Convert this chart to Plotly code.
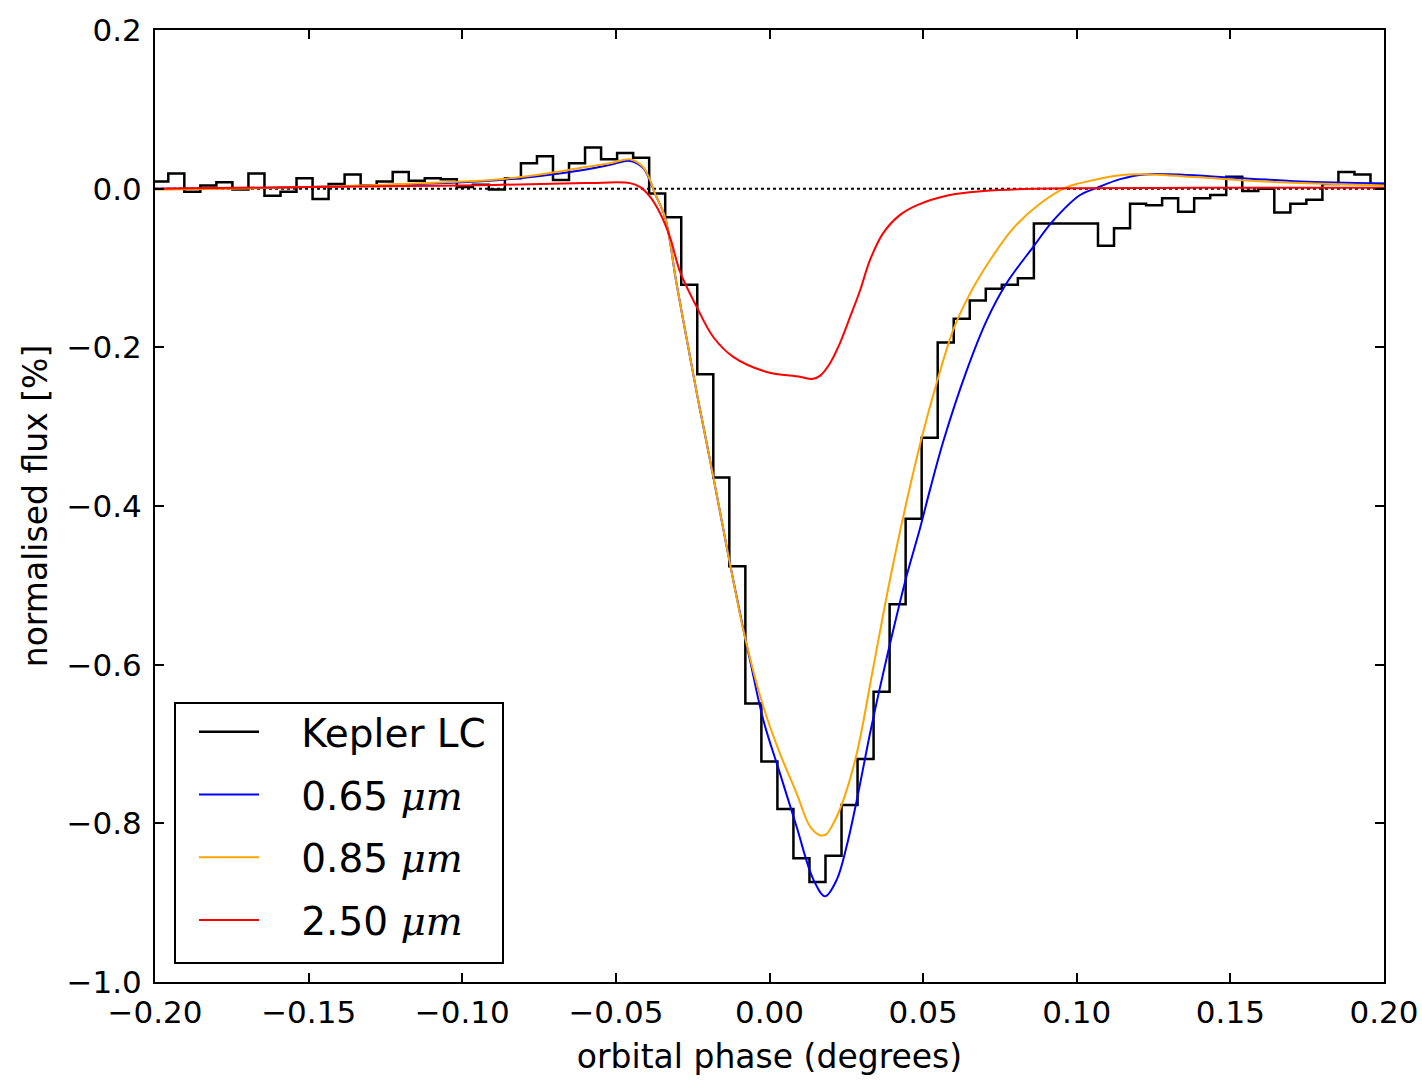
import numpy as np
import plotly.graph_objects as go

# ---------------- data ----------------
BIN_START = -0.20089
BIN_WIDTH = 0.005217
kepler_lc = [
    0.009, 0.019, -0.004, 0.004, 0.008, -0.001, 0.019, -0.009, -0.004, 0.013,
    -0.013, 0.006, 0.018, 0.004, 0.009, 0.021, 0.010, 0.013, 0.012, 0.002,
    0.005, -0.001, 0.013, 0.032, 0.041, 0.011, 0.032, 0.052, 0.037, 0.045,
    0.039, -0.006, -0.036, -0.121, -0.234, -0.364, -0.476, -0.649, -0.722, -0.782,
    -0.844, -0.874, -0.841, -0.777, -0.719, -0.634, -0.524, -0.416, -0.314, -0.194,
    -0.164, -0.141, -0.126, -0.121, -0.113, -0.044, -0.044, -0.044, -0.044, -0.072,
    -0.050, -0.019, -0.021, -0.012, -0.029, -0.012, -0.008, 0.015, -0.003, 0.000,
    -0.030, -0.019, -0.014, 0.006, 0.021, 0.018, 0.006,
]

phase_065 = [-0.2, -0.15, -0.1, -0.0877, -0.0747, -0.0617, -0.0519, -0.0454, -0.0411,
             -0.0389, -0.0373, -0.0340, -0.0302, -0.0248, -0.0232, -0.0183, -0.0129,
             -0.0080, -0.0063, -0.0020, 0.0034, 0.0088, 0.0143, 0.0181, 0.0219, 0.0251,
             0.0284, 0.0327, 0.0360, 0.0403, 0.0447, 0.0490, 0.0522, 0.0566, 0.0642,
             0.0707, 0.0772, 0.0859, 0.0924, 0.1011, 0.1059, 0.1141, 0.1222, 0.1522,
             0.1727, 0.2]
flux_065 = [0.000, 0.002, 0.008, 0.011, 0.016, 0.023, 0.030, 0.035, 0.026,
            0.010, -0.006, -0.036, -0.121, -0.234, -0.267, -0.363, -0.472,
            -0.565, -0.595, -0.670, -0.737, -0.804, -0.871, -0.892, -0.871, -0.829,
            -0.771, -0.687, -0.628, -0.556, -0.487, -0.428, -0.380, -0.318, -0.229,
            -0.166, -0.119, -0.073, -0.040, -0.008, 0.000, 0.012, 0.018, 0.0136,
            0.009, 0.0066]

phase_085 = [-0.2, -0.15, -0.1, -0.0877, -0.0747, -0.0617, -0.0519, -0.0454, -0.0411,
             -0.0389, -0.0373, -0.0340, -0.0302, -0.0248, -0.0232, -0.0183, -0.0129,
             -0.0080, -0.0020, 0.0034, 0.0088, 0.0132, 0.0164, 0.0184, 0.0208, 0.0240,
             0.0284, 0.0338, 0.0392, 0.0447, 0.0496, 0.0544, 0.0598, 0.0653, 0.0718,
             0.0793, 0.0880, 0.0967, 0.1011, 0.1141, 0.1238, 0.1522, 0.1727, 0.2]
flux_085 = [-0.001, 0.002, 0.009, 0.012, 0.018, 0.026, 0.032, 0.037, 0.027,
            0.011, -0.006, -0.036, -0.121, -0.234, -0.267, -0.363, -0.472,
            -0.565, -0.653, -0.712, -0.762, -0.804, -0.815, -0.814, -0.800, -0.771,
            -0.712, -0.603, -0.493, -0.393, -0.313, -0.245, -0.178, -0.132, -0.090,
            -0.050, -0.019, 0.002, 0.007, 0.017, 0.018, 0.011, 0.007, 0.004]

phase_250 = [-0.2, -0.15, -0.1, -0.06, -0.0454, -0.0421, -0.0389, -0.0356, -0.0324,
             -0.0291, -0.0237, -0.0183, -0.0118, -0.0009, 0.0099, 0.0138, 0.0164,
             0.0197, 0.0229, 0.0262, 0.0295, 0.0327, 0.0370, 0.0425, 0.0479, 0.0587,
             0.0696, 0.0858, 0.14, 0.2]
flux_250 = [0.000, 0.002, 0.004, 0.007, 0.007, 0.002, -0.010, -0.031, -0.061,
            -0.105, -0.149, -0.187, -0.212, -0.231, -0.237, -0.240, -0.236,
            -0.220, -0.195, -0.162, -0.128, -0.090, -0.056, -0.033, -0.021, -0.008,
            -0.003, 0.000, 0.001, 0.001]

x_ticks = [-0.20, -0.15, -0.10, -0.05, 0.00, 0.05, 0.10, 0.15, 0.20]
x_tick_text = ["\u22120.20", "\u22120.15", "\u22120.10", "\u22120.05", "0.00", "0.05", "0.10", "0.15", "0.20"]
y_ticks = [-1.0, -0.8, -0.6, -0.4, -0.2, 0.0, 0.2]
y_tick_text = ["\u22121.0", "\u22120.8", "\u22120.6", "\u22120.4", "\u22120.2", "0.0", "0.2"]

# ---------------- figure ----------------
n = len(kepler_lc)
edges = BIN_START + BIN_WIDTH * np.arange(n + 1)
step_x = list(edges)
step_y = list(kepler_lc) + [kepler_lc[-1]]

pad = "\u00a0\u00a0\u00a0"
mu = '<span style="font-family:\'DejaVu Serif\';font-style:italic">\u03bcm</span>'

fig = go.Figure()
fig.add_trace(go.Scatter(x=[-0.2, 0.2], y=[0, 0], mode="lines",
                         line=dict(color="black", width=2, dash="dot"),
                         showlegend=False, hoverinfo="skip"))
fig.add_trace(go.Scatter(x=step_x, y=step_y, mode="lines", line_shape="hv",
                         line=dict(color="black", width=2.5), name=pad + "Kepler LC",
                         legendgroup="a"))
fig.add_trace(go.Scatter(x=phase_065, y=flux_065, mode="lines", line_shape="spline",
                         line=dict(color="#0000ff", width=2), name=pad + "0.65 " + mu,
                         legendgroup="b"))
fig.add_trace(go.Scatter(x=phase_085, y=flux_085, mode="lines", line_shape="spline",
                         line=dict(color="#ffa500", width=2), name=pad + "0.85 " + mu,
                         legendgroup="c"))
fig.add_trace(go.Scatter(x=phase_250, y=flux_250, mode="lines", line_shape="spline",
                         line=dict(color="#ff0000", width=2), name=pad + "2.50 " + mu,
                         legendgroup="d"))

axis_common = dict(showline=True, linecolor="black", linewidth=2, mirror="ticks",
                   ticks="inside", ticklen=9, tickwidth=1.5, tickcolor="black",
                   showgrid=False, zeroline=False, automargin=False,
                   tickfont=dict(family="DejaVu Sans", size=31, color="black"))

fig.update_xaxes(range=[-0.2, 0.2], tickvals=x_ticks, ticktext=x_tick_text,
                 ticklabelstandoff=2,
                 title=dict(text="orbital phase (degrees)", standoff=16,
                            font=dict(family="DejaVu Sans", size=33, color="black")),
                 **axis_common)
fig.update_yaxes(range=[-1.0, 0.2], tickvals=y_ticks, ticktext=y_tick_text,
                 ticklabelstandoff=5,
                 title=dict(text="normalised flux [%]", standoff=9,
                            font=dict(family="DejaVu Sans", size=33, color="black")),
                 **axis_common)

# legend frame (paper coordinates of the plot area)
L, R, T, B = 155, 1384, 30, 982
def px(xp):
    return (xp - L) / (R - L)
def py(yp):
    return (B - yp) / (B - T)

fig.add_shape(type="rect", xref="paper", yref="paper",
              x0=px(175), x1=px(503), y0=py(963), y1=py(703),
              line=dict(color="black", width=2), fillcolor="white", layer="above")

fig.update_layout(
    width=1422, height=1080,
    margin=dict(l=L, r=1422 - R, t=T, b=1080 - B),
    paper_bgcolor="white", plot_bgcolor="white",
    font=dict(family="DejaVu Sans", color="black"),
    legend=dict(x=px(194), y=py(700), xanchor="left", yanchor="top",
                borderwidth=0, bgcolor="rgba(0,0,0,0)",
                font=dict(family="DejaVu Sans", size=39, color="black"),
                tracegroupgap=9, itemwidth=60),
)

fig.write_html("out.html")
